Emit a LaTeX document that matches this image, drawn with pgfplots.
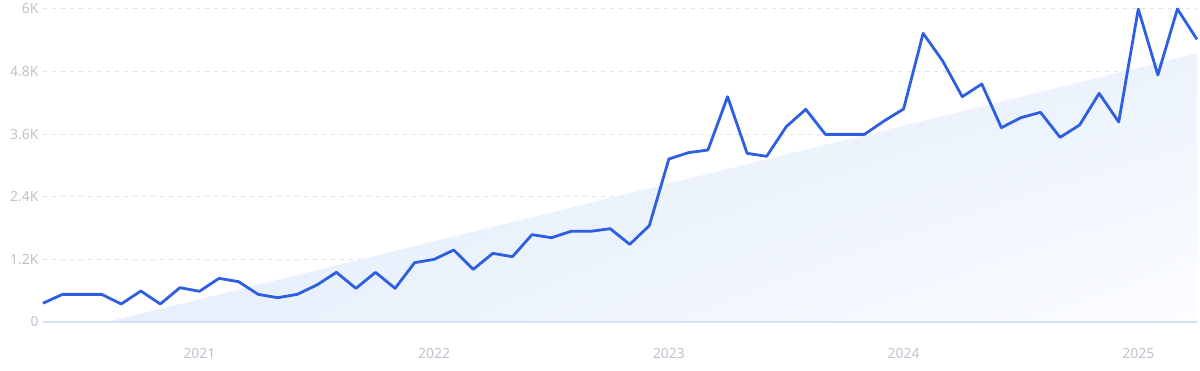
\documentclass[border=0pt]{standalone}
\usepackage{fontspec}
\setmainfont{Noto Sans}
\usepackage{pgfplots}
\pgfplotsset{compat=1.18}
\usetikzlibrary{shadings}
\definecolor{lineblue}{HTML}{2D5FE0}
\definecolor{gridc}{HTML}{D8E5F5}
\definecolor{basec}{HTML}{CFE4F8}
\definecolor{labc}{HTML}{BFC2CC}
\definecolor{shA}{HTML}{DCE9FA}
\definecolor{shB}{HTML}{E6EFFB}
\definecolor{shC}{HTML}{ECF3FD}
\definecolor{shD}{HTML}{FCFDFF}
\begin{document}
\begin{tikzpicture}
\begin{axis}[
  at={(43bp,49bp)}, anchor=south west,
  scale only axis, width=1154bp, height=313bp,
  xmin=0, xmax=59, ymin=0, ymax=6000,
  axis line style={draw=none},
  major tick length=0pt,
  xtick={8,20,32,44,56},
  xticklabels={2021,2022,2023,2024,2025},
  ytick={0,1200,2400,3600,4800,6000},
  yticklabels={0,1.2K,2.4K,3.6K,4.8K,6K},
  ymajorgrids,
  grid style={gridc, line width=1bp, dash pattern=on 4bp off 5bp},
  tick label style={font=\fontsize{14}{16}\selectfont, text=labc},
  xticklabel style={yshift=-23bp},
  yticklabel style={xshift=-1bp},
  clip=false,
]
\addplot[draw=none, upper left=shA, lower left=shB, upper right=shC, lower right=shD]
  coordinates {(3.27,0) (59,5150)} \closedcycle;
\draw[basec, line width=1.2bp] (axis cs:0,0) -- (axis cs:59,0);
\addplot[lineblue, line width=2.8bp, line join=round] coordinates {
(0,360) (1,530) (2,530) (3,530) (4,345) (5,594) (6,345) (7,658) (8,588) (9,837)
(10,773) (11,530) (12,466) (13,530) (14,709) (15,952) (16,645) (17,952) (18,645) (19,1137)
(20,1201) (21,1380) (22,1010) (23,1316) (24,1252) (25,1674) (26,1616) (27,1738) (28,1738) (29,1789)
(30,1489) (31,1847) (32,3125) (33,3246) (34,3297) (35,4319) (36,3233) (37,3176) (38,3744) (39,4077)
(40,3597) (41,3597) (42,3597) (43,3853) (44,4083) (45,5533) (46,5003) (47,4319) (48,4562) (49,3725)
(50,3917) (51,4019) (52,3540) (53,3776) (54,4383) (55,3834) (56,6000) (57,4735) (58,6000) (59,5418)
};
\end{axis}
\pgfresetboundingbox
\path[use as bounding box] (0,0) rectangle (1200bp,371bp);
\end{tikzpicture}
\end{document}
